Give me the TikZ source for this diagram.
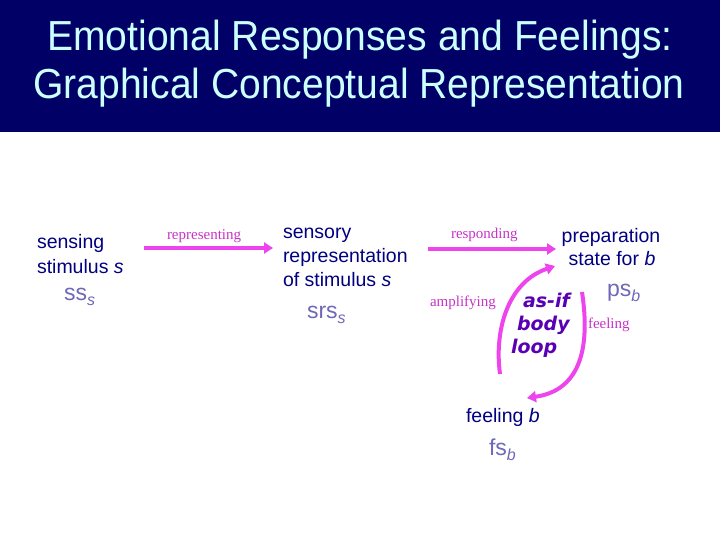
\documentclass[tikz,border=0pt]{standalone}
\usepackage{fontspec}
\setmainfont{Liberation Sans}
\newfontfamily\labelfont{Liberation Serif}
\newfontfamily\loopfont{DejaVu Sans}
\usetikzlibrary{arrows.meta}
\definecolor{titlebg}{RGB}{0,0,102}
\definecolor{titlefg}{RGB}{204,255,255}
\definecolor{navy}{RGB}{0,0,128}
\definecolor{subgray}{RGB}{110,104,184}
\definecolor{arrowmag}{RGB}{238,68,238}
\definecolor{labmag}{RGB}{200,50,200}
\definecolor{looppur}{RGB}{90,0,180}
\tikzset{
  every node/.style={inner sep=0pt, outer sep=0pt},
  titletext/.style={text=titlefg, font=\fontsize{42}{42}\selectfont, anchor=base},
  body/.style={text=navy, font=\fontsize{19.5}{19.5}\selectfont, anchor=base west},
  bodyc/.style={text=navy, font=\fontsize{19.5}{19.5}\selectfont, anchor=base},
  subl/.style={text=subgray, font=\fontsize{23}{23}\selectfont, anchor=base west},
  lab/.style={text=labmag, font=\labelfont\fontsize{15}{15}\selectfont, anchor=base west},
  looptext/.style={text=looppur, font=\loopfont\bfseries\itshape\fontsize{19}{19}\selectfont, anchor=base west},
  magarrow/.style={draw=arrowmag, line width=4pt, -{Triangle[length=9pt,width=11pt]}},
}
\newcommand{\subs}[1]{\raisebox{-5pt}{\fontsize{16}{16}\selectfont\itshape #1}}
\begin{document}
\begin{tikzpicture}[x=1pt,y=-1pt]
\useasboundingbox (0,0) rectangle (720,540);
\fill[titlebg] (0,0) rectangle (720,132);
\node[titletext] (t1) at (360,51) {\scalebox{0.93}[1]{Emotional Responses and Feelings:}};
\node[titletext] (t2) at (359,99) {\scalebox{0.93}[1]{Graphical Conceptual Representation}};

% sensing stimulus
\node[body] (ss1) at (37,248) {sensing};
\node[body] (ss2) at (37,273) {stimulus \textit{s}};
\node[subl] (ss) at (64,300) {ss\subs{s}};

% sensory representation
\node[body] (sr1) at (283,238) {sensory};
\node[body] (sr2) at (283,262) {representation};
\node[body] (sr3) at (283,286) {of stimulus \textit{s}};
\node[subl] (srs) at (307,318) {srs\subs{s}};

% preparation state
\node[bodyc] (ps1) at (611,243) {preparation};
\node[bodyc] (ps2) at (612,265) {state for \textit{b}};
\node[subl] (ps) at (607,296) {ps\subs{b}};

% feeling b
\node[body] (fb1) at (466,422) {feeling \textit{b}};
\node[subl] (fs) at (489,455) {fs\subs{b}};

% labels
\node[lab] (lrep) at (167,240) {representing};
\node[lab] (lres) at (451,238) {responding};
\node[lab] (lamp) at (430,306) {amplifying};
\node[lab] (lfeel) at (588,328) {feeling};

% as-if body loop
\node[looptext] (l1) at (523,307) {as-if};
\node[looptext] (l2) at (517,330) {body};
\node[looptext] (l3) at (511,353) {loop};

% connectors
\coordinate (a1s) at (144,248);
\coordinate (a1e) at (273,248);
\coordinate (a2s) at (428,249);
\coordinate (a2e) at (556,249);
\draw[magarrow] (a1s) -- (a1e);
\draw[magarrow] (a2s) -- (a2e);
\coordinate (lbs) at (500,374);
\coordinate (lbe) at (555,266);
\draw[magarrow] (lbs) .. controls (494,330) and (508,282) .. (lbe);
\coordinate (rbs) at (582,292);
\coordinate (rbe) at (527,398);
\draw[magarrow] (rbs) .. controls (590,345) and (582,390) .. (rbe);
\end{tikzpicture}
\end{document}
